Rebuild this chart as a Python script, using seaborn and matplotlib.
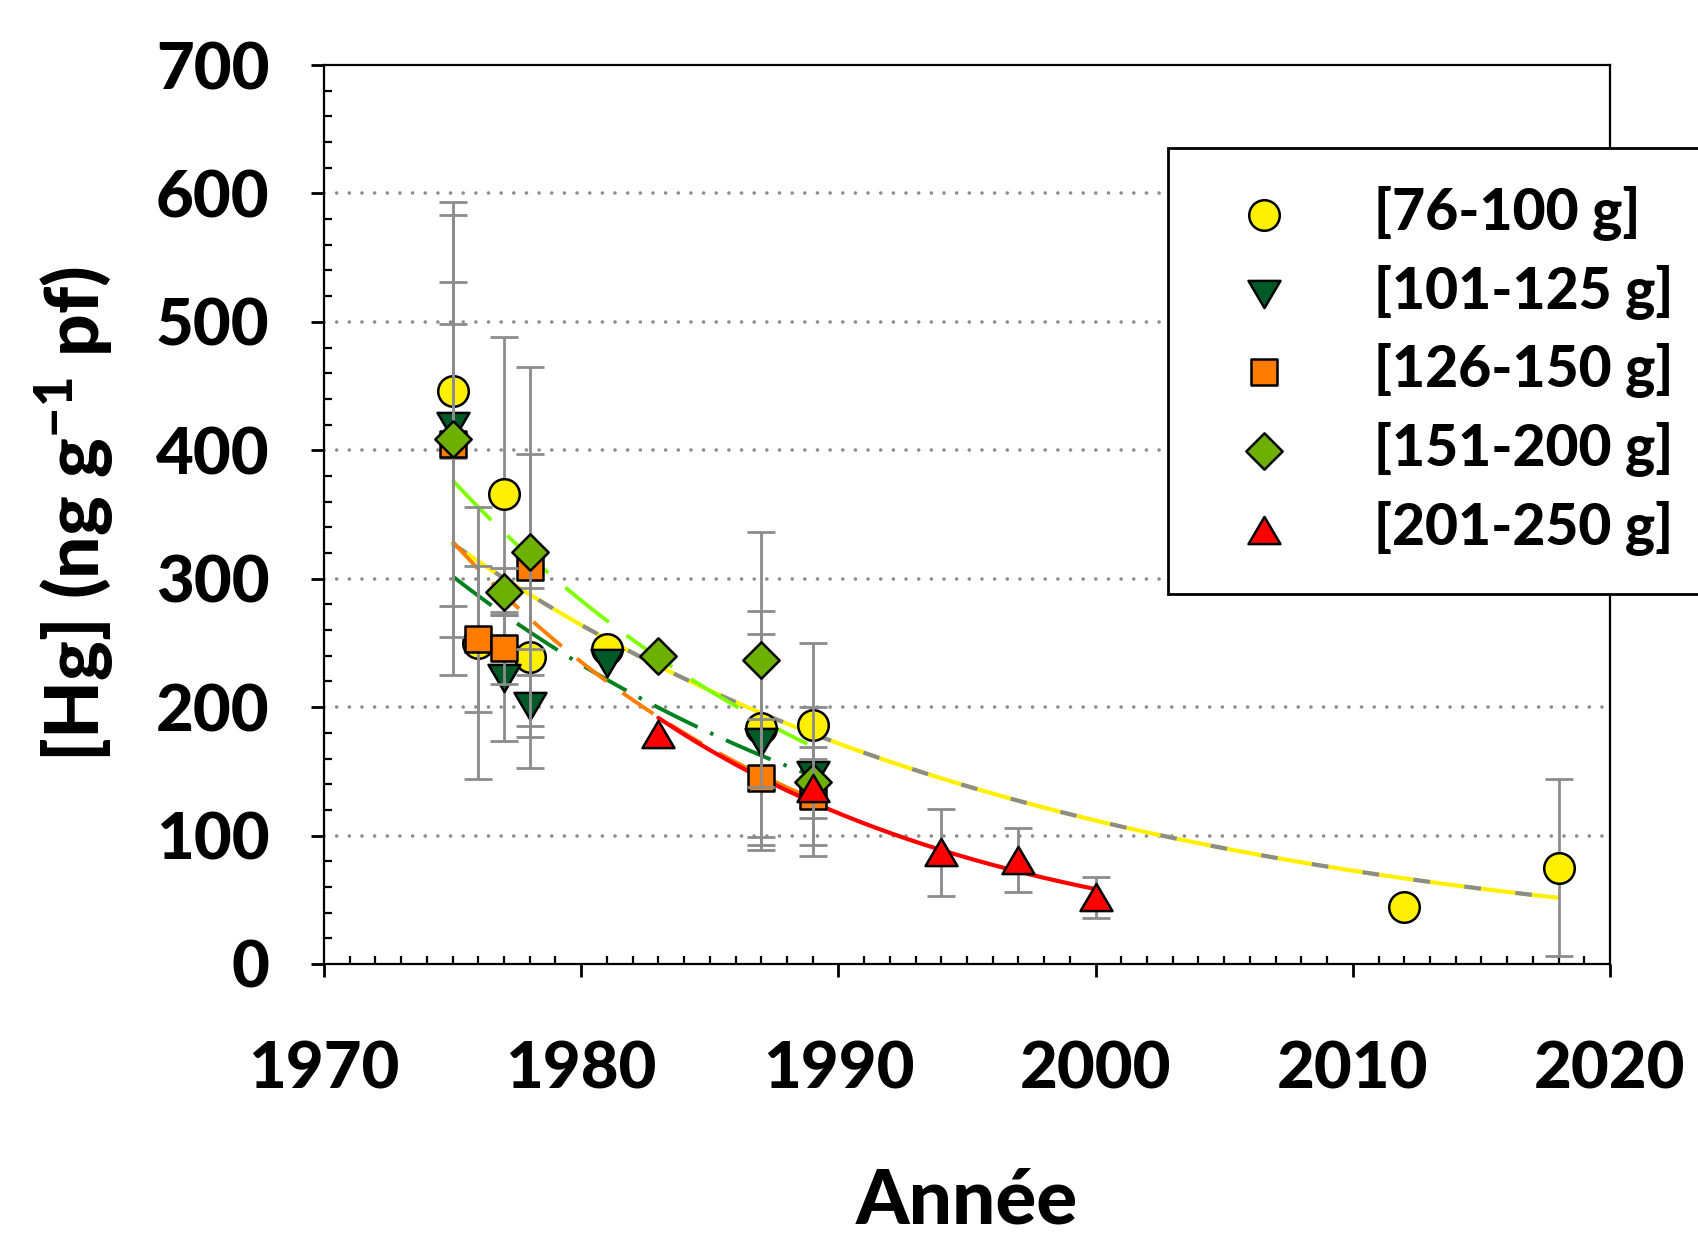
import numpy as np
import pandas as pd
import matplotlib
matplotlib.use("Agg")
import matplotlib.pyplot as plt
from matplotlib.path import Path
from matplotlib.ticker import MultipleLocator
import seaborn as sns

# ---------------- data ----------------
labels = ["[76-100 g]", "[101-125 g]", "[126-150 g]", "[151-200 g]", "[201-250 g]"]

years1 = [1975, 1976, 1977, 1978, 1981, 1987, 1989, 2012, 2018]
hg1 = [446, 250, 366, 239, 245, 184, 186, 44, 75]
err1 = [52, 106, 122, 54, 0, 91, 64, 0, 69]

years2 = [1975, 1977, 1978, 1981, 1987, 1989]
hg2 = [419, 223, 201, 234, 173, 147]
err2 = [164, 49, 24, 0, 84, 0]

years3 = [1975, 1976, 1977, 1978, 1987, 1989]
hg3 = [405, 253, 246, 309, 145, 131]
err3 = [126, 57, 28, 156, 46, 38]

years4 = [1975, 1977, 1978, 1983, 1987, 1989]
hg4 = [409, 290, 321, 240, 237, 142]
err4 = [184, 18, 76, 0, 99, 58]

years5 = [1983, 1989, 1994, 1997, 2000]
hg5 = [179, 137, 87, 81, 52]
err5 = [0, 23, 34, 25, 16]

x_ticks = [1970, 1980, 1990, 2000, 2010, 2020]
y_ticks = [0, 100, 200, 300, 400, 500, 600, 700]

# ---------------- style ----------------
sns.set_theme(style="white")
plt.rcParams["font.family"] = ["Lato", "DejaVu Sans"]
plt.rcParams["font.weight"] = "black"
plt.rcParams["text.color"] = "black"
plt.rcParams["mathtext.fontset"] = "custom"
plt.rcParams["mathtext.rm"] = "Lato:black"
plt.rcParams["mathtext.bf"] = "Lato:black"
plt.rcParams["mathtext.it"] = "Lato:black"
plt.rcParams["lines.scale_dashes"] = False
W = "black"

tri_up = Path([(0, 0.85), (-1, -0.85), (1, -0.85), (0, 0.85)],
              [Path.MOVETO, Path.LINETO, Path.LINETO, Path.CLOSEPOLY])
tri_dn = Path([(0, -0.85), (-1, 0.85), (1, 0.85), (0, -0.85)],
              [Path.MOVETO, Path.LINETO, Path.LINETO, Path.CLOSEPOLY])

series = [
    (labels[0], years1, hg1, err1, "o", 22, "#FFF000"),
    (labels[1], years2, hg2, err2, tri_dn, 23, "#005A28"),
    (labels[2], years3, hg3, err3, "s", 19, "#FF7C00"),
    (labels[3], years4, hg4, err4, "D", 18.5, "#6DB000"),
    (labels[4], years5, hg5, err5, tri_up, 23, "#FF0000"),
]

# trend line styles (exponential fits of each series)
trend_styles = [
    [("#FFF000", "-", 3.0), ("#8C8C8C", (0, (12, 25)), 3.0)],
    [("#00801E", (0, (35, 10, 2.5, 10)), 2.8)],
    [("#FF8000", (0, (27, 14)), 2.8)],
    [("#80FF00", (0, (40, 16)), 2.8)],
    [("#FF0000", "-", 3.0)],
]

fig = plt.figure(figsize=(16.99, 12.34), dpi=100)
ax = fig.add_axes([324 / 1699, 1 - 964 / 1234, (1610 - 324) / 1699, (964 - 65) / 1234])

# grid
for yv in y_ticks[1:-1]:
    ax.axhline(yv, color="#8C8C8C", lw=2.6, linestyle=(0, (0.01, 9.1)),
               dash_capstyle="round", zorder=0.5)

for i, (lab, yrs, vals, errs, mk, ms, fc) in enumerate(series):
    df = pd.DataFrame({"Année": yrs, "Hg": vals, "err": errs})
    # exponential trend line fitted to the series
    b, ln_a = np.polyfit(df["Année"], np.log(df["Hg"]), 1)
    xs = np.linspace(df["Année"].min(), df["Année"].max(), 300)
    ys = np.exp(ln_a + b * xs)
    for (col, ls, lw) in trend_styles[i]:
        ax.plot(xs, ys, color=col, linestyle=ls, lw=lw, zorder=1 + 0.1 * i)
    eb = df[df["err"] > 0]
    ax.errorbar(eb["Année"], eb["Hg"], yerr=eb["err"], fmt="none",
                ecolor="#8C8C8C", elinewidth=2.0, capsize=10, capthick=2.0,
                zorder=3 + 2 * i)
    sns.scatterplot(data=df, x="Année", y="Hg", marker=mk, s=ms ** 2, color=fc,
                    edgecolor="black", linewidth=1.8, label=lab,
                    zorder=4 + 2 * i, ax=ax)

ax.set_xlim(1970, 2020)
ax.set_ylim(0, 700)
ax.set_xticks(x_ticks)
ax.set_yticks(y_ticks)
ax.xaxis.set_minor_locator(MultipleLocator(1))
ax.yaxis.set_minor_locator(MultipleLocator(20))
ax.tick_params(axis="both", which="both", bottom=True, left=True, top=False, right=False)
ax.tick_params(axis="both", which="major", direction="out", length=9.4, width=2,
               color="black", labelsize=47, labelcolor="black")
ax.tick_params(axis="both", which="minor", direction="in", length=5.8, width=1.6,
               color="black")
ax.tick_params(axis="x", which="major", pad=46)
ax.tick_params(axis="y", which="major", pad=30)
for lbl in ax.get_xticklabels() + ax.get_yticklabels():
    lbl.set_fontweight(W)

for sp in ax.spines.values():
    sp.set_visible(True)
    sp.set_color("black")
    sp.set_linewidth(1.6)

ax.set_xlabel("Année", fontsize=55, fontweight=W, color="black")
ax.xaxis.set_label_coords(0.5, -0.289)
ax.xaxis.label.set_verticalalignment("baseline")
ax.set_ylabel("[Hg] (ng g$^{-1}$ pf)", fontsize=54, fontweight=W, color="black")
ax.yaxis.set_label_coords(-0.161, 0.5)

leg = ax.legend(loc="upper left", bbox_to_anchor=(1168 / 1699, 1 - 148 / 1234),
                bbox_transform=fig.transFigure, borderaxespad=0, fontsize=41,
                frameon=True, fancybox=False, framealpha=1, edgecolor="black",
                borderpad=0.66, handlelength=2.04, handletextpad=0.92,
                labelspacing=0.42)
leg.get_frame().set_linewidth(2)
for t in leg.get_texts():
    t.set_fontweight(W)
    t.set_color("black")

fig.savefig("out.png", dpi=100)
